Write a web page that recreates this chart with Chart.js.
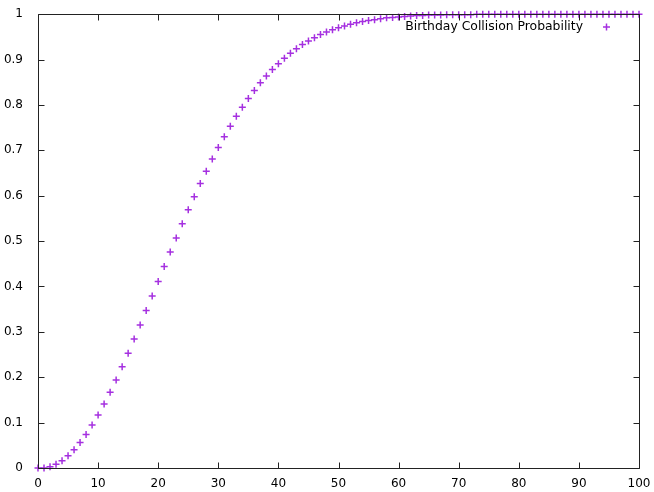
<!DOCTYPE html>
<html>
<head>
<meta charset="utf-8">
<script src="https://cdn.jsdelivr.net/npm/chart.js@4/dist/chart.umd.min.js"></script>
<style>
  html, body { margin: 0; padding: 0; background: #fff; }
  #wrap { width: 654px; height: 492px; }
</style>
</head>
<body>
<div id="wrap"><canvas id="birthdayChart" width="654" height="492"></canvas></div>
<script>
// number of people in the room
const people = [0,1,2,3,4,5,6,7,8,9,10,11,12,13,14,15,16,17,18,19,20,
  21,22,23,24,25,26,27,28,29,30,31,32,33,34,35,36,37,38,39,40,
  41,42,43,44,45,46,47,48,49,50,51,52,53,54,55,56,57,58,59,60,
  61,62,63,64,65,66,67,68,69,70,71,72,73,74,75,76,77,78,79,80,
  81,82,83,84,85,86,87,88,89,90,91,92,93,94,95,96,97,98,99,100];

// chance that at least two share a birthday
const probability = [0,0,0.003,0.008,0.016,0.027,0.040,0.056,0.074,0.095,0.117,
  0.141,0.167,0.194,0.223,0.253,0.284,0.315,0.347,0.379,0.411,
  0.444,0.476,0.507,0.538,0.569,0.598,0.627,0.654,0.681,0.706,
  0.730,0.753,0.775,0.795,0.814,0.832,0.849,0.864,0.878,0.891,
  0.903,0.914,0.924,0.933,0.941,0.948,0.955,0.961,0.966,0.970,
  0.974,0.978,0.981,0.984,0.986,0.988,0.990,0.992,0.993,0.994,
  0.995,0.996,0.997,0.997,0.998,0.998,0.998,0.999,0.999,0.999,
  0.999,0.999,1,1,1,1,1,1,1,1,
  1,1,1,1,1,1,1,1,1,1,1,1,1,1,1,1,1,1,1,1];

const xTicks = [0,10,20,30,40,50,60,70,80,90,100];
const yTicks = [0,0.1,0.2,0.3,0.4,0.5,0.6,0.7,0.8,0.9,1];
const seriesLabel = "Birthday Collision Probability";

const purple = "#a530e0";
const font = { family: "'DejaVu Sans', sans-serif", size: 12 };

// gnuplot-like frame: border box, inward ticks on all sides, key in top right
const framePlugin = {
  id: "frame",
  afterDraw(chart) {
    const ctx = chart.ctx;
    const a = chart.chartArea;
    const xs = chart.scales.x, ys = chart.scales.y;
    const L = Math.round(a.left) + 0.5, R = Math.round(a.right) + 0.5;
    const T = Math.round(a.top) + 0.5, B = Math.round(a.bottom) + 0.5;
    ctx.save();
    ctx.strokeStyle = "#222";
    ctx.lineWidth = 1;
    ctx.beginPath();
    ctx.rect(L, T, R - L, B - T);
    xTicks.forEach(v => {
      const px = Math.round(xs.getPixelForValue(v)) + 0.5;
      ctx.moveTo(px, B); ctx.lineTo(px, B - 6);
      ctx.moveTo(px, T); ctx.lineTo(px, T + 6);
    });
    yTicks.forEach(v => {
      const py = Math.round(ys.getPixelForValue(v)) + 0.5;
      ctx.moveTo(L, py); ctx.lineTo(L + 6, py);
      ctx.moveTo(R, py); ctx.lineTo(R - 6, py);
    });
    ctx.stroke();

    // key
    ctx.font = "12.4px " + font.family;
    ctx.fillStyle = "#000";
    ctx.textAlign = "right";
    ctx.textBaseline = "middle";
    ctx.fillText(seriesLabel, 583, 27);
    ctx.strokeStyle = purple;
    ctx.lineWidth = 1.5;
    ctx.beginPath();
    ctx.moveTo(603, 27); ctx.lineTo(610, 27);
    ctx.moveTo(606.5, 23.5); ctx.lineTo(606.5, 30.5);
    ctx.stroke();
    ctx.restore();
  }
};

const ctx = document.getElementById("birthdayChart").getContext("2d");
new Chart(ctx, {
  type: "scatter",
  data: {
    datasets: [{
      label: seriesLabel,
      data: people.map((n, i) => ({ x: n, y: probability[i] })),
      pointStyle: "cross",
      pointRadius: 3.5,
      pointHoverRadius: 3.5,
      borderColor: purple,
      backgroundColor: purple,
      pointBorderWidth: 1.5,
      clip: false
    }]
  },
  options: {
    responsive: false,
    animation: false,
    layout: { padding: { top: 13, right: 15, left: 0, bottom: 0 } },
    plugins: {
      legend: { display: false },
      tooltip: { enabled: false }
    },
    scales: {
      x: {
        type: "linear",
        min: 0,
        max: 100,
        afterBuildTicks: s => { s.ticks = xTicks.map(v => ({ value: v })); },
        afterFit: s => { s.height = 24; },
        grid: { display: false },
        border: { display: false },
        ticks: { color: "#000", font: font, padding: 1, maxRotation: 0,
                 callback: v => String(v) }
      },
      y: {
        type: "linear",
        min: 0,
        max: 1,
        afterBuildTicks: s => { s.ticks = yTicks.map(v => ({ value: v })); },
        afterFit: s => { s.width = 38; },
        grid: { display: false },
        border: { display: false },
        ticks: { color: "#000", font: font, padding: 7,
                 callback: v => String(v) }
      }
    }
  },
  plugins: [framePlugin]
});
</script>
</body>
</html>
